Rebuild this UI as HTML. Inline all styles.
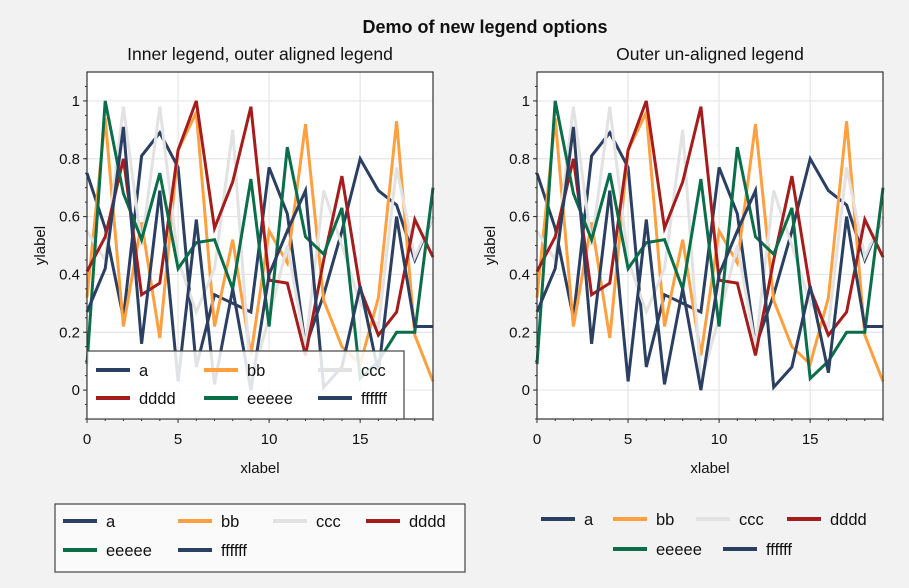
<!DOCTYPE html>
<html><head><meta charset="utf-8"><style>
body{margin:0;background:#f2f2f2;font-family:"Liberation Sans",sans-serif;}
svg{display:block}
text{font-family:"Liberation Sans",sans-serif;fill:#111}
</style></head><body>
<svg id="c" width="909" height="588">
<rect width="909" height="588" fill="#f2f2f2"/>
<text x="485" y="33" font-size="18" font-weight="bold" text-anchor="middle">Demo of new legend options</text>
</svg>
<script>
const xs=[0,1,2,3,4,5,6,7,8,9,10,11,12,13,14,15,16,17,18,19];
const seriesNames=["a","bb","ccc","dddd","eeeee","ffffff"];
const seriesColors=["#2a3f61","#ffa040","#e2e2e2","#a51c1c","#0a6e49","#2a3f61"];
const aVals=[0.75,0.56,0.25,0.81,0.89,0.77,0.08,0.33,0.30,0.27,0.77,0.61,0.15,0.33,0.55,0.80,0.69,0.64,0.45,0.60];
const bbVals=[0.32,0.94,0.22,0.58,0.18,0.83,0.96,0.22,0.52,0.12,0.55,0.44,0.92,0.31,0.15,0.09,0.32,0.93,0.19,0.03];
const cccVals=[0.55,0.45,0.98,0.50,0.98,0.45,0.27,0.42,0.90,0.03,0.25,0.50,0.15,0.69,0.50,0.30,0.22,0.77,0.46,0.60];
const ddddVals=[0.41,0.53,0.80,0.33,0.37,0.83,1.00,0.56,0.72,0.98,0.38,0.37,0.12,0.45,0.74,0.35,0.19,0.27,0.59,0.46];
const eeeeeVals=[0.09,1.00,0.68,0.52,0.75,0.42,0.51,0.52,0.35,0.73,0.22,0.84,0.53,0.47,0.63,0.04,0.10,0.20,0.20,0.70];
const ffffffVals=[0.27,0.42,0.91,0.16,0.69,0.03,0.59,0.02,0.35,0.00,0.40,0.55,0.69,0.01,0.08,0.36,0.06,0.60,0.22,0.22];
const allVals=[aVals,bbVals,cccVals,ddddVals,eeeeeVals,ffffffVals];
const yTicks=[0,0.2,0.4,0.6,0.8,1];
const yTickLabels=["0","0.2","0.4","0.6","0.8","1"];
const xTicks=[0,5,10,15];

const NS="http://www.w3.org/2000/svg";
const svg=document.getElementById('c');
function mk(tag,attrs,parent){const e=document.createElementNS(NS,tag);for(const k in attrs)e.setAttribute(k,attrs[k]);(parent||svg).appendChild(e);return e;}

function panel(left,title,pname){
  const L=left,R=left+346,T=72,B=419;
  const X=v=>L+(v-0)/19*(R-L);
  const Y=v=>T+(1.1-v)/1.2*(B-T);
  const g=mk('g',{});
  
  
  mk('rect',{x:L,y:T,width:R-L,height:B-T,fill:'#fff'},g);
  for(const t of yTicks){mk('line',{x1:L,x2:R,y1:Y(t),y2:Y(t),stroke:'#e6e6e6','stroke-width':1.2},g);}
  for(const t of xTicks){mk('line',{x1:X(t),x2:X(t),y1:T,y2:B,stroke:'#e6e6e6','stroke-width':1.2},g);}
  allVals.forEach((vals,i)=>{
    const d=vals.map((v,j)=>(j?'L':'M')+X(xs[j]).toFixed(1)+','+Y(v).toFixed(1)).join('');
    const p=mk('path',{d:d,fill:'none',stroke:seriesColors[i],'stroke-width':3,'stroke-linejoin':'miter'},g);
    
    
  });
  mk('rect',{x:L,y:T,width:R-L,height:B-T,fill:'none',stroke:'#333','stroke-width':1.2},g);
  yTicks.forEach((t,k)=>{
    mk('line',{x1:L-4,x2:L,y1:Y(t),y2:Y(t),stroke:'#333'},g);
    const tx=mk('text',{x:L-7,y:Y(t)+5,'font-size':15,'text-anchor':'end'},g);tx.textContent=yTickLabels[k];
  });
  for(let v=-0.1;v<=1.1;v+=0.05){mk('line',{x1:L-2,x2:L,y1:Y(v),y2:Y(v),stroke:'#333'},g);}
  for(const t of xTicks){
    mk('line',{x1:X(t),x2:X(t),y1:B,y2:B+4,stroke:'#333'},g);
    const tx=mk('text',{x:X(t),y:B+25,'font-size':15,'text-anchor':'middle'},g);tx.textContent=String(t);
  }
  for(let v=0;v<=19;v++){mk('line',{x1:X(v),x2:X(v),y1:B,y2:B+2,stroke:'#333'},g);}
  const xl=mk('text',{x:(L+R)/2,y:B+54,'font-size':15,'text-anchor':'middle'},g);xl.textContent='xlabel';
  
  const yl=mk('text',{x:0,y:0,'font-size':15,'text-anchor':'middle',transform:`translate(${L-42},${(T+B)/2}) rotate(-90)`},g);yl.textContent='ylabel';
  
  const tt=mk('text',{x:(L+R)/2,y:T-12,'font-size':17.5,'text-anchor':'middle'},g);tt.textContent=title;
  
  return g;
}
panel(87,'Inner legend, outer aligned legend','left-panel');
panel(537,'Outer un-aligned legend','right-panel');

function legend(entries,name,box){
  const g=mk('g',{});
  
  
  if(box)mk('rect',{x:box[0],y:box[1],width:box[2],height:box[3],fill:box[4],'fill-opacity':box[5],stroke:'#444','stroke-width':1.2},g);
  entries.forEach(e=>{
    const i=e[0];
    const eg=mk('g',{},g);
    
    
    mk('line',{x1:e[1],x2:e[1]+34,y1:e[2],y2:e[2],stroke:seriesColors[i],'stroke-width':4},eg);
    const t=mk('text',{x:e[1]+43,y:e[2]+6,'font-size':16.5},eg);t.textContent=seriesNames[i];
  });
}
legend([[0,96,370],[1,204,370],[2,318,370],[3,96,398],[4,204,398],[5,318,398]],'inner-legend',[87,351,317,68,'#fff',0.85]);
legend([[0,63,521],[1,178,521],[2,273,521],[3,366,521],[4,63,550],[5,178,550]],'bottom-left-legend',[55,504,410,68,'#fafafa',1]);
legend([[0,541,519],[1,613,519],[2,696,519],[3,787,519],[4,613,549],[5,723,549]],'bottom-right-legend',null);
</script>
</body></html>
